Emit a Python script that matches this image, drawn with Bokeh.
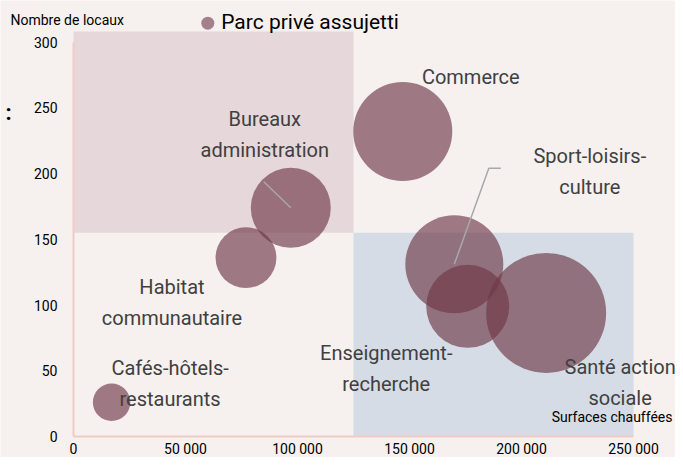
import math
from bokeh.plotting import figure
from bokeh.models import Range1d, FixedTicker
from bokeh.core.properties import value
from bokeh.embed import file_html
from bokeh.resources import INLINE

# ---------------- data ----------------
categories = ["Cafés-hôtels-\nrestaurants", "Habitat\ncommunautaire", "Bureaux\nadministration",
              "Commerce", "Sport-loisirs-\nculture", "Enseignement-\nrecherche", "Santé action\nsociale"]
surfaces = [17000, 77000, 97000, 147000, 170000, 176000, 211000]   # surfaces chauffées
locaux = [26, 136, 174, 232, 131, 99, 94]                          # nombre de locaux
poids = [14, 37, 64, 98, 96, 69, 144]                              # taille relative des bulles
x_ticks = [0, 50000, 100000, 150000, 200000, 250000]
x_tick_labels = ["0", "50 000", "100 000", "150 000", "200 000", "250 000"]
y_ticks = [0, 50, 100, 150, 200, 250, 300]
seuil_surface = 125000
seuil_locaux = 155
surface_max = 250000
locaux_max = 300
zone_haut = 308
serie = "Parc privé assujetti"
titre_x = "Surfaces chauffées"
titre_y = "Nombre de locaux"

# ---------------- style / layout ----------------
BG = "#f6f1ef"
PINK = "#e6d7da"
BLUE = "#d5dce5"
AXIS = "#eecbc5"
BUBBLE = "#6e3746"
LEADER = "#a8a8a8"
FONT = value("Roboto")

W, H = 675, 457
PX_X = 0.00224                # px per unit (x)
PX_Y = 1.3149                 # px per unit (y)
X0_PIX, Y0_PIX = 73, 436      # canvas position of the origin


def dx_(px):
    return (px - X0_PIX) / PX_X


def dy_(py):
    return (Y0_PIX - py) / PX_Y


x_start = dx_(0)
y_start = dy_(H)
x_range = Range1d(x_start, x_start + W / PX_X)
y_range = Range1d(y_start, y_start + H / PX_Y)

p = figure(width=W, height=H, x_range=x_range, y_range=y_range,
           output_backend="svg", toolbar_location=None,
           min_border=0, min_border_left=0, min_border_right=0,
           min_border_top=0, min_border_bottom=0,
           background_fill_color=BG, border_fill_color=BG, outline_line_color=None)
p.grid.visible = False

for ax in (p.xaxis, p.yaxis):
    ax.fixed_location = 0
    ax.axis_line_color = AXIS
    ax.axis_line_width = 2
    ax.major_tick_line_color = None
    ax.minor_tick_line_color = None
    ax.major_tick_out = 0
    ax.major_tick_in = 0
    ax.minor_tick_out = 0
    ax.major_label_text_font = "Roboto"
    ax.major_label_text_font_size = "14px"
    ax.major_label_text_color = "#000000"

p.xaxis.ticker = FixedTicker(ticks=x_ticks)
p.xaxis.bounds = (0, surface_max)
p.xaxis.major_label_overrides = {t: l for t, l in zip(x_ticks, x_tick_labels)}
p.xaxis.major_label_standoff = 4
p.yaxis.ticker = FixedTicker(ticks=y_ticks)
p.yaxis.bounds = (0, locaux_max)
p.yaxis.major_label_standoff = 16

# quadrants
p.quad(left=[0], right=[seuil_surface], bottom=[seuil_locaux], top=[zone_haut],
       fill_color=PINK, line_color=None, level="underlay")
p.quad(left=[seuil_surface], right=[surface_max], bottom=[0], top=[seuil_locaux],
       fill_color=BLUE, line_color=None, level="underlay")

# bubbles
sizes = [10 * math.sqrt(v) for v in poids]
p.scatter(x=surfaces, y=locaux, size=sizes, fill_color=BUBBLE, fill_alpha=0.65, line_color=None)


# leader lines (screen offsets from bubble centres)
def pt(i, ox, oy):
    return surfaces[i] + ox / PX_X, locaux[i] - oy / PX_Y


lead_b = [pt(2, 0, 0), pt(2, -27, -26)]
lead_s = [pt(4, 0, 0), pt(4, 34.5, -96), pt(4, 46.5, -96)]
p.multi_line(xs=[[a for a, b in lead_b], [a for a, b in lead_s]],
             ys=[[b for a, b in lead_b], [b for a, b in lead_s]],
             line_color=LEADER, line_width=1.5)

# category labels
off_x = [58.5, -74, -26, 68, 135.5, -81.5, 74]
off_y = [-18.5, 44.5, -73, -54, -93, 62, 69.5]
p.text(x=surfaces, y=locaux, text=categories, x_offset=off_x, y_offset=off_y,
       text_align="center", text_baseline="middle", text_font=FONT,
       text_font_size="20px", text_color="#404040", text_line_height=1.3)

# legend (manual)
p.scatter(x=[dx_(207.3)], y=[dy_(22.7)], size=13,
          fill_color=BUBBLE, fill_alpha=0.6, line_color=None)
p.text(x=[dx_(220.7)], y=[dy_(21.7)], text=[serie],
       text_align="left", text_baseline="middle", text_font=FONT,
       text_font_size="21px", text_color="#000000")

# axis titles
p.text(x=[dx_(672)], y=[dy_(416)], text=[titre_x],
       text_align="right", text_baseline="middle", text_font=FONT,
       text_font_size="14px", text_color="#000000")
p.text(x=[dx_(10)], y=[dy_(19)], text=[titre_y],
       text_align="left", text_baseline="middle", text_font=FONT,
       text_font_size="14px", text_color="#000000")
p.text(x=[dx_(5)], y=[dy_(112)], text=[":"],
       text_align="left", text_baseline="middle", text_font=FONT,
       text_font_size="22px", text_font_style="bold", text_color="#000000")

open("out.html", "w").write(file_html(p, INLINE))
